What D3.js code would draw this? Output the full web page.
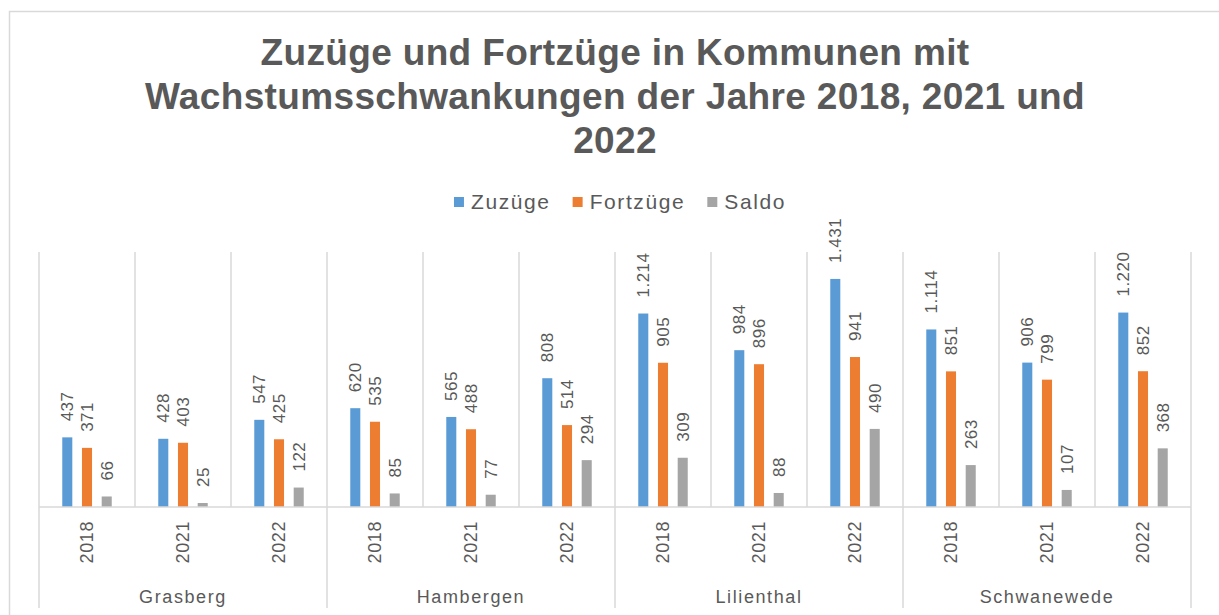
<!DOCTYPE html>
<html>
<head>
<meta charset="utf-8">
<script src="https://cdn.jsdelivr.net/npm/d3@7"></script>
<style>
  html, body { margin: 0; padding: 0; background: #fff; }
  svg { display: block; font-family: "Liberation Sans", Arial, sans-serif; }
</style>
</head>
<body>
<svg id="chart" width="1219" height="615"></svg>
<script>
// ---- data ----
const titleLines = ["Zuzüge und Fortzüge in Kommunen mit", "Wachstumsschwankungen der Jahre 2018, 2021 und", "2022"];
const cities = ["Grasberg", "Hambergen", "Lilienthal", "Schwanewede"];
const years = ["2018", "2021", "2022"];
const series = ["Zuzüge", "Fortzüge", "Saldo"];
const colors = ["#5B9BD5", "#ED7D31", "#A5A5A5"];
// values per city, per year: [Zuzüge, Fortzüge, Saldo]
const zuzuege  = [[437, 428, 547], [620, 565, 808], [1214, 984, 1431], [1114, 906, 1220]];
const fortzuege = [[371, 403, 425], [535, 488, 514], [905, 896, 941], [851, 799, 852]];
const saldo    = [[66, 25, 122], [85, 77, 294], [309, 88, 490], [263, 107, 368]];
const yDomain = [0, 1600];

// ---- build rows ----
const seriesValues = [zuzuege, fortzuege, saldo];
const slots = [];
cities.forEach((c, ci) => years.forEach((y, yi) => slots.push({ key: c + "|" + y, city: c, year: y, ci, yi })));
const rows = [];
slots.forEach(s => series.forEach((name, si) => rows.push({ slot: s.key, series: name, si, value: seriesValues[si][s.ci][s.yi] })));

// ---- layout ----
const svg = d3.select("#chart");
const textColor = "#595959";
const gridColor = "#D9D9D9";
const plotLeft = 39, plotRight = 1191, plotTop = 252, plotBottom = 507, axisBottom = 608;

const x = d3.scaleBand().domain(slots.map(s => s.key)).range([plotLeft, plotRight]).padding(0);
const xInner = d3.scaleBand().domain(series).range([0, x.bandwidth()]).paddingInner(0.49).paddingOuter(1.18);
const y = d3.scaleLinear().domain(yDomain).range([plotBottom, plotTop]);
const de = d3.formatLocale({ decimal: ",", thousands: ".", grouping: [3], currency: ["", " €"] });
const fmt = de.format(",d");

// outer border
svg.append("rect").attr("x", 9.5).attr("y", 11.5).attr("width", 1240).attr("height", 700)
  .attr("fill", "none").attr("stroke", gridColor).attr("stroke-width", 1.5);

// title
svg.append("g").selectAll("text").data(titleLines).join("text")
  .attr("x", 615).attr("y", (d, i) => 65 + i * 44)
  .attr("text-anchor", "middle").attr("fill", textColor)
  .attr("font-size", 37).attr("font-weight", "bold").attr("letter-spacing", 0.35)
  .text(d => d);

// legend
const legend = svg.append("g");
const items = legend.selectAll("g").data(series).join("g");
items.append("rect").attr("width", 10).attr("height", 10).attr("y", 197).attr("fill", (d, i) => colors[i]);
items.append("text").attr("x", 17).attr("y", 209).attr("font-size", 21).attr("letter-spacing", 1.6)
  .attr("fill", textColor).text(d => d);
let widths = [];
items.each(function () { widths.push(17 + d3.select(this).select("text").node().getComputedTextLength()); });
const gap = 22;
const total = d3.sum(widths) + gap * (widths.length - 1);
let cx = 620 - total / 2;
items.attr("transform", (d, i) => { const t = `translate(${cx},0)`; cx += widths[i] + gap; return t; });

// gridlines (slot boundaries)
const bounds = slots.map(s => x(s.key)).concat([plotRight]);
svg.append("g").selectAll("line").data(bounds).join("line")
  .attr("x1", d => d).attr("x2", d => d)
  .attr("y1", plotTop)
  .attr("y2", (d, i) => (i % years.length === 0) ? axisBottom : plotBottom)
  .attr("stroke", gridColor).attr("stroke-width", 1.5);

// bars
svg.append("g").selectAll("rect").data(rows).join("rect")
  .attr("x", d => x(d.slot) + xInner(d.series))
  .attr("width", xInner.bandwidth())
  .attr("y", d => y(d.value))
  .attr("height", d => y(0) - y(d.value))
  .attr("fill", d => colors[d.si]);

// data labels
svg.append("g").selectAll("text").data(rows).join("text")
  .attr("transform", d => `translate(${x(d.slot) + xInner(d.series) + xInner.bandwidth() / 2},${y(d.value) - 16}) rotate(-90)`)
  .attr("dy", "0.35em").attr("text-anchor", "start")
  .attr("font-size", 17).attr("letter-spacing", 0.5).attr("fill", textColor)
  .text(d => fmt(d.value));

// x axis line
svg.append("line").attr("x1", plotLeft).attr("x2", plotRight).attr("y1", plotBottom).attr("y2", plotBottom)
  .attr("stroke", gridColor).attr("stroke-width", 1.5);

// year labels
svg.append("g").selectAll("text").data(slots).join("text")
  .attr("transform", d => `translate(${x(d.key) + x.bandwidth() / 2},521) rotate(-90)`)
  .attr("dy", "0.35em").attr("text-anchor", "end")
  .attr("font-size", 18).attr("letter-spacing", 0.6).attr("fill", textColor)
  .text(d => d.year);

// city labels
const groupW = x.bandwidth() * years.length;
svg.append("g").selectAll("text").data(cities).join("text")
  .attr("x", (d, i) => plotLeft + groupW * i + groupW / 2).attr("y", 603)
  .attr("text-anchor", "middle").attr("font-size", 18).attr("letter-spacing", 1.6)
  .attr("fill", textColor).text(d => d);
</script>
</body>
</html>
